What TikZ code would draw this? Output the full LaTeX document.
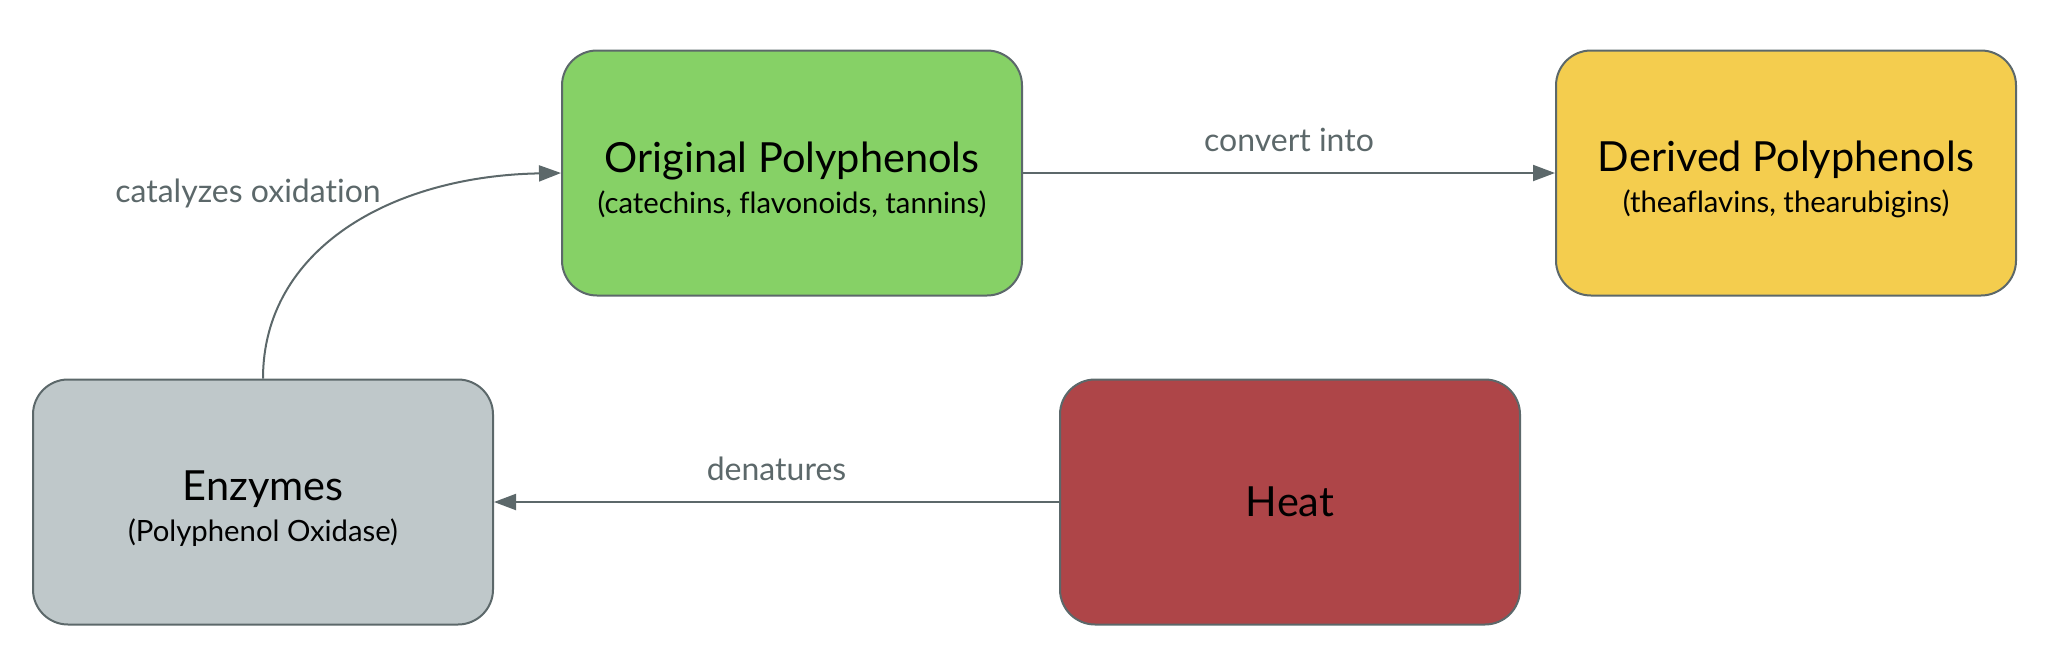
\documentclass[tikz,border=0pt]{standalone}
\usepackage{fontspec}
\setmainfont{Lato}[Ligatures=NoCommon]
\usetikzlibrary{arrows.meta}
\definecolor{edgecol}{HTML}{5C686A}
\definecolor{greenfill}{HTML}{86D166}
\definecolor{yellowfill}{HTML}{F4CD4E}
\definecolor{grayfill}{HTML}{BFC8CA}
\definecolor{redfill}{HTML}{AE4548}
\tikzset{
  box/.style={draw=edgecol, line width=2pt, rounded corners=35pt, minimum width=460pt, minimum height=245pt, inner sep=0pt, align=center, text=black, font=\fontsize{29.3}{41}\selectfont},
  lbl/.style={text=edgecol, font=\fontsize{32}{38}\selectfont, inner sep=0pt},
  conn/.style={draw=edgecol, line width=2pt, -{Triangle[length=22pt, width=16pt]}}
}
\newcommand{\mainline}[1]{{\fontsize{41.5}{41}\selectfont\rule{0pt}{44pt}#1}}
\newcommand{\single}[1]{{\fontsize{41.5}{41}\selectfont #1}}
\begin{document}
\begin{tikzpicture}[x=1pt, y=-1pt]
\useasboundingbox (0,0) rectangle (2070,654);
\node[box, fill=greenfill] (orig) at (792,173) {\mainline{Original Polyphenols}\\(catechins, flavonoids, tannins)};
\node[box, fill=yellowfill] (der) at (1786,173) {\mainline{Derived Polyphenols}\\(theaflavins, thearubigins)};
\node[box, fill=grayfill] (enz) at (263,502) {\mainline{Enzymes}\\(Polyphenol Oxidase)};
\node[box, fill=redfill] (heat) at (1290,502) {\single{Heat}};
\draw[conn] (orig.east) -- (der.west) node[lbl, midway, above=20pt] (l1) {convert into};
\draw[conn] (heat.west) -- (enz.east) node[lbl, midway, above=20pt] (l2) {denatures};
\draw[conn] (enz.north) .. controls (263,250) and (390,176) .. (orig.west);
\node[lbl] (l3) at (248,193) {catalyzes oxidation};
\end{tikzpicture}
\end{document}
